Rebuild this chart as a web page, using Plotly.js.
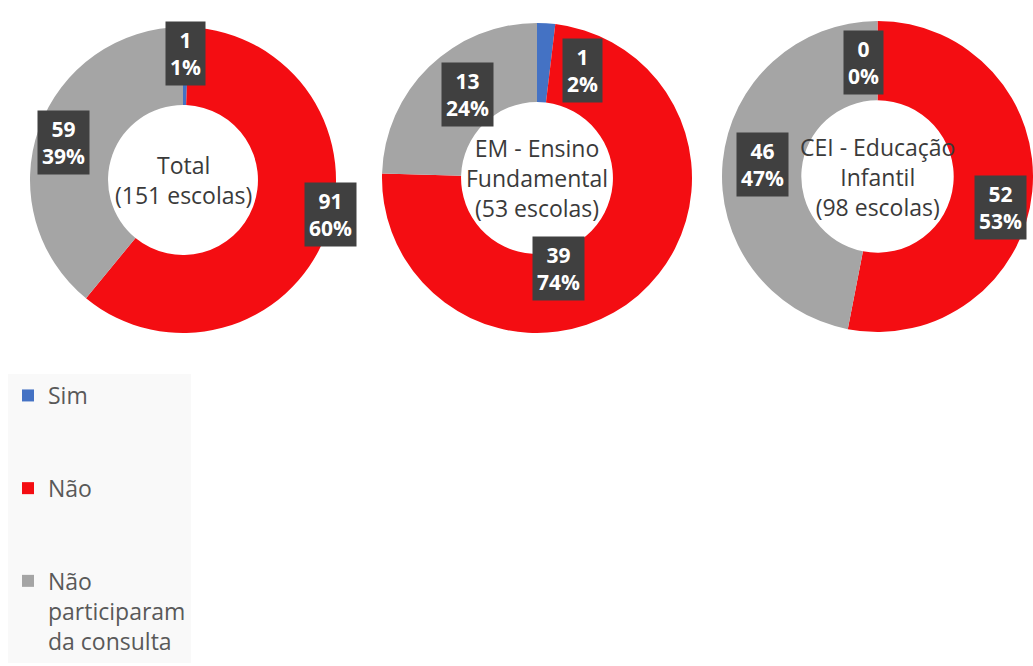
<!DOCTYPE html>
<html>
<head>
<meta charset="utf-8">
<script src="https://cdn.plot.ly/plotly-3.0.1.min.js"></script>
<style>html,body{margin:0;padding:0;background:#fff;}#chart{width:1033px;height:666px;}</style>
</head>
<body>
<div id="chart"></div>
<script>
// ---- data ----
var categories = ['Sim', 'Não', 'Não participaram da consulta'];
var groupTitles = ['Total<br>(151 escolas)', 'EM - Ensino<br>Fundamental<br>(53 escolas)', 'CEI - Educação<br>Infantil<br>(98 escolas)'];
var totalValues = [1, 91, 59];
var emValues = [1, 39, 13];
var ceiValues = [0, 52, 46];
var totalPct = [1, 60, 39];
var emPct = [2, 74, 24];
var ceiPct = [0, 53, 47];

// ---- style / layout config ----
var W = 1033, H = 666;
var colors = ['#4472C4', '#F40D12', '#A5A5A5'];
var donutBoxes = [ // pixel boxes [left, top, size]
  {l: 30, t: 27, s: 306},
  {l: 382, t: 23, s: 310},
  {l: 722, t: 21, s: 311}
];
var labelRadius = 0.8;
// small pixel nudges of the data-label boxes (avoid overlaps like the original)
var labelNudge = [
  [[0, -4], [33, -9], [-4, 4]],
  [[38, 16], [-59, -3], [17, 5]],
  [[-14, 10], [-1, 19], [9, 0]]
];
var fontFam = '"Open Sans", "DejaVu Sans", sans-serif';

function wrapLabel(t, maxLen) {
  var words = t.split(' '), lines = [], cur = '';
  words.forEach(function (w) {
    if (cur && (cur + ' ' + w).length > maxLen) { lines.push(cur); cur = w; }
    else { cur = cur ? cur + ' ' + w : w; }
  });
  lines.push(cur);
  if (lines.length === 1) { while (lines.length < 3) lines.push('\u00a0'); }
  return lines.join('<br>');
}
var legendLabels = categories.map(function (c) { return wrapLabel(c, 12); });

var series = [totalValues, emValues, ceiValues];
var pcts = [totalPct, emPct, ceiPct];

var traces = [], annotations = [];
series.forEach(function (vals, gi) {
  var b = donutBoxes[gi];
  var dom = {x: [b.l / W, Math.min(1, (b.l + b.s) / W)], y: [1 - (b.t + b.s) / H, 1 - b.t / H]};
  traces.push({
    type: 'pie', labels: legendLabels, values: vals, hole: 0.49,
    sort: false, direction: 'clockwise', rotation: 0,
    marker: {colors: colors, line: {width: 0}},
    textinfo: 'none', domain: dom, showlegend: true,
    hovertemplate: '%{label}: %{value}<extra></extra>'
  });
  var cx = b.l + b.s / 2, cy = b.t + b.s / 2, R = b.s / 2;
  annotations.push({
    xref: 'paper', yref: 'paper', x: cx / W, y: 1 - cy / H, showarrow: false,
    xanchor: 'center', yanchor: 'middle',
    text: groupTitles[gi], font: {family: fontFam, size: 23, color: '#3a3a3a'}
  });
  var sum = vals.reduce(function (a, c) { return a + c; }, 0), cum = 0;
  vals.forEach(function (v, i) {
    var mid = (cum + v / 2) / sum * 2 * Math.PI; cum += v;
    var px = cx + labelRadius * R * Math.sin(mid) + labelNudge[gi][i][0];
    var py = cy - labelRadius * R * Math.cos(mid) + labelNudge[gi][i][1];
    annotations.push({
      xref: 'paper', yref: 'paper', x: px / W, y: 1 - py / H, showarrow: false,
      xanchor: 'center', yanchor: 'middle',
      text: v + '<br>' + pcts[gi][i] + '%', bgcolor: '#404040', borderpad: 4,
      font: {family: fontFam, size: 21, color: '#ffffff', weight: 'bold'}
    });
  });
});

var layout = {
  width: W, height: H,
  margin: {l: 0, r: 0, t: 0, b: 0},
  paper_bgcolor: '#ffffff',
  showlegend: true,
  legend: {
    x: 8 / W, y: 1 - 374 / H, xanchor: 'left', yanchor: 'top',
    bgcolor: '#f9f9f9', valign: 'top', traceorder: 'normal',
    font: {family: fontFam, size: 23, color: '#595959'}
  },
  annotations: annotations
};

Plotly.newPlot('chart', traces, layout, {displayModeBar: false, staticPlot: true});
</script>
</body>
</html>
